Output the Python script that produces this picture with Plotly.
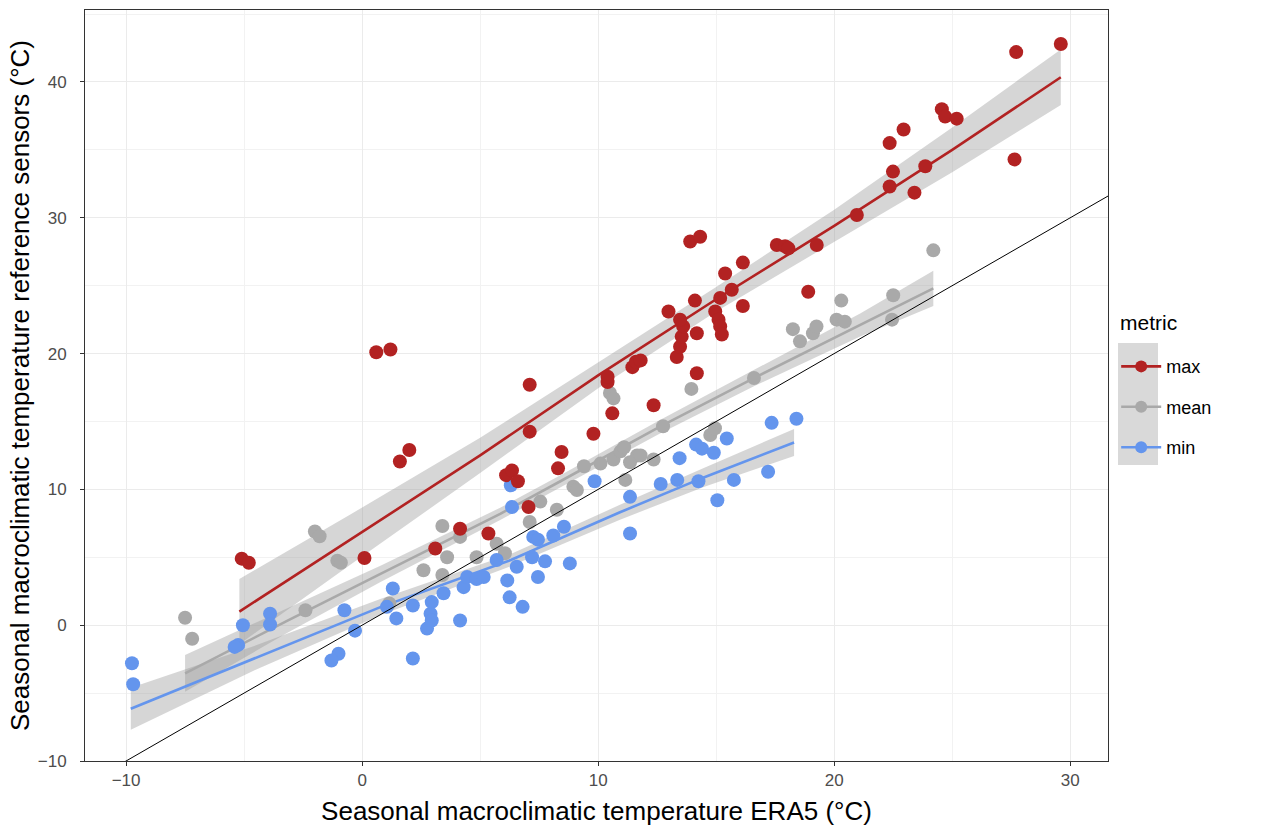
import plotly.graph_objects as go

# ---------------- data ----------------
metrics = ["max", "mean", "min"]

max_x = [-5.1, -4.8, 0.1, 0.6, 1.2, 1.6, 2.0, 3.1, 4.15, 5.35, 6.1, 6.35, 6.6, 7.05, 7.1, 7.1,
         8.3, 8.45, 9.8, 10.4, 10.4, 10.6, 11.45, 11.6, 11.8, 12.35, 12.98, 13.33, 13.47, 13.54,
         13.6, 13.47, 13.9, 14.32, 14.1, 14.18, 14.18, 14.96, 15.1, 15.17, 15.24, 15.17, 15.38,
         15.66, 16.13, 16.13, 17.57, 17.92, 18.06, 18.9, 19.26, 20.96, 22.35, 22.35, 22.49, 22.94,
         23.4, 23.86, 24.56, 24.7, 25.19, 27.64, 27.71, 29.6]
max_y = [4.9, 4.6, 4.95, 20.1, 20.3, 12.05, 12.9, 5.65, 7.1, 6.75, 11.05, 11.4, 10.6, 8.7, 14.25, 17.7,
         11.55, 12.75, 14.1, 17.9, 18.3, 15.6, 19.0, 19.4, 19.5, 16.2, 23.1, 19.75, 20.5, 21.25,
         22.0, 22.5, 28.25, 28.6, 23.9, 21.5, 18.55, 23.1, 22.5, 22.0, 21.4, 24.1, 25.9,
         24.7, 23.5, 26.7, 28.0, 27.9, 27.75, 24.55, 28.0, 30.2, 35.5, 32.3, 33.4, 36.5,
         31.85, 33.8, 38.0, 37.45, 37.3, 34.3, 42.2, 42.8]

mean_x = [-7.5, -7.2, -2.4, -2.0, -1.8, -1.05, -0.9, 1.15, 2.6, 3.4, 3.4, 3.6, 4.15, 4.85, 5.7,
          6.05, 7.1, 7.55, 8.25, 8.95, 9.1, 9.4, 10.1, 10.5, 10.65, 10.65, 10.95, 11.1, 11.15,
          11.35, 11.65, 11.8, 12.35, 12.75, 13.95, 14.75, 14.95, 16.6, 18.25, 18.55, 19.1, 19.25,
          20.1, 20.3, 20.45, 22.45, 22.5, 24.2]
mean_y = [0.55, -1.0, 1.1, 6.9, 6.55, 4.75, 4.6, 1.6, 4.05, 7.3, 3.7, 5.0, 6.5, 5.0, 6.0,
          5.3, 7.6, 9.1, 8.5, 10.2, 9.95, 11.7, 11.9, 17.1, 16.7, 12.2, 12.8, 13.1, 10.7,
          12.0, 12.5, 12.5, 12.2, 14.65, 17.4, 14.0, 14.5, 18.2, 21.8, 20.9, 21.5, 22.0,
          22.5, 23.9, 22.35, 22.5, 24.3, 27.6]

min_x = [-9.75, -9.7, -5.05, -5.25, -5.4, -3.9, -3.9, -0.75, -0.3, -1.0, -1.3, 1.3, 1.05, 1.45,
         2.15, 2.15, 2.75, 2.9, 2.95, 2.95, 3.45, 4.15, 4.3, 4.45, 4.85, 5.15, 5.7, 6.15, 6.25,
         6.3, 6.35, 6.55, 6.8, 7.2, 7.25, 7.45, 7.45, 7.75, 8.1, 8.55, 8.8, 9.85, 11.35, 11.35,
         12.65, 13.35, 13.45, 14.15, 14.25, 14.4, 14.9, 15.05, 15.45, 15.75, 17.2, 17.35, 18.4]
min_y = [-2.8, -4.35, 0.0, -1.45, -1.6, 0.85, 0.05, 1.1, -0.4, -2.1, -2.6, 2.7, 1.35, 0.5,
         1.45, -2.45, -0.25, 0.85, 1.7, 0.35, 2.35, 0.35, 2.8, 3.55, 3.4, 3.55, 4.8, 3.3, 2.05,
         10.3, 8.7, 4.3, 1.35, 5.0, 6.5, 3.55, 6.3, 4.7, 6.6, 7.25, 4.55, 10.6, 9.45, 6.75,
         10.4, 10.7, 12.3, 13.3, 10.6, 13.0, 12.7, 9.2, 13.75, 10.7, 11.3, 14.9, 15.2]

# smoothed fits (geom_smooth)
max_fit_x = [-5.2, -0.5, 5, 10, 15, 20, 25, 29.6]
max_fit_y = [1.0, 6.3, 12.5, 18.4, 24.0, 29.4, 35.0, 40.35]
max_fit_se = [2.4, 1.85, 1.3, 0.95, 0.9, 1.2, 1.65, 2.05]

mean_fit_x = [-7.5, -3.2, 0.8, 5.85, 8.4, 12.6, 16.6, 21.1, 24.2]
mean_fit_y = [-3.55, 0.3, 3.8, 8.2, 10.6, 14.6, 18.2, 22.1, 24.8]
mean_fit_se = [1.35, 0.9, 0.6, 0.45, 0.45, 0.5, 0.6, 0.85, 1.3]

min_fit_x = [-9.8, -4.6, 0.8, 6.3, 9.2, 10.9, 14.5, 18.3]
min_fit_y = [-6.15, -2.45, 1.35, 4.8, 7.0, 8.3, 10.9, 13.45]
min_fit_se = [1.55, 0.9, 0.6, 0.45, 0.5, 0.55, 0.7, 1.0]

identity_x = [-12, 32]

x_ticks = [-10, 0, 10, 20, 30]
y_ticks = [-10, 0, 10, 20, 30, 40]

# ---------------- styling ----------------
colors = {"max": "#B22222", "mean": "#A9A9A9", "min": "#6495ED"}
points = {"max": (max_x, max_y), "mean": (mean_x, mean_y), "min": (min_x, min_y)}
fits = {"max": (max_fit_x, max_fit_y, max_fit_se),
        "mean": (mean_fit_x, mean_fit_y, mean_fit_se),
        "min": (min_fit_x, min_fit_y, min_fit_se)}
point_draw_order = ["mean", "min", "max"]

fig = go.Figure()

# confidence bands
for m in metrics:
    fx, fy, se = fits[m]
    up = [y + s for y, s in zip(fy, se)]
    lo = [y - s for y, s in zip(fy, se)]
    fig.add_trace(go.Scatter(x=fx + fx[::-1], y=up + lo[::-1], fill="toself",
                             fillcolor="rgba(153,153,153,0.4)", line=dict(width=0),
                             mode="lines", hoverinfo="skip", showlegend=False))
# fit lines
for m in metrics:
    fx, fy, se = fits[m]
    fig.add_trace(go.Scatter(x=fx, y=fy, mode="lines", line=dict(color=colors[m], width=2.6),
                             showlegend=False, hoverinfo="skip"))
# points
for m in point_draw_order:
    px_, py_ = points[m]
    fig.add_trace(go.Scatter(x=px_, y=py_, mode="markers", name=m,
                             marker=dict(color=colors[m], size=14, line=dict(width=0)),
                             showlegend=False))
# identity line
fig.add_trace(go.Scatter(x=identity_x, y=identity_x, mode="lines",
                         line=dict(color="black", width=1), showlegend=False, hoverinfo="skip"))
# legend entries
for m in metrics:
    fig.add_trace(go.Scatter(x=[None], y=[None], mode="lines+markers", name=m, legendgroup=m,
                             marker=dict(color=colors[m], size=12),
                             line=dict(color=colors[m], width=2.6)))

axis_common = dict(
    ticks="outside", ticklen=4, tickcolor="#333333", tickwidth=1, automargin=False,
    tickfont=dict(family="Liberation Sans, Arial, sans-serif", size=17, color="#4d4d4d"),
    showgrid=True, gridcolor="#ebebeb", gridwidth=1.2,
    minor=dict(dtick=5, showgrid=True, gridcolor="#f2f2f2", gridwidth=0.8),
    showline=True, linecolor="#333333", linewidth=1, mirror=True, zeroline=False,
)

fig.update_layout(
    width=1268, height=832,
    margin=dict(l=85, r=160, t=10, b=71),
    plot_bgcolor="white", paper_bgcolor="white",
    font=dict(family="Liberation Sans, Arial, sans-serif", color="black"),
    xaxis=dict(range=[-11.74, 31.6], tickvals=x_ticks, **axis_common,
               title=dict(text="Seasonal macroclimatic temperature ERA5 (°C)",
                          font=dict(size=26, color="black"), standoff=12)),
    yaxis=dict(range=[-10, 45.3], tickvals=y_ticks, **axis_common,
               ticklabelstandoff=10,
               title=dict(text="Seasonal macroclimatic temperature reference sensors (°C)",
                          font=dict(size=26, color="black"), standoff=0)),
    legend=dict(x=1.008, y=0.5497, xanchor="left", yanchor="top",
                font=dict(size=18), tracegroupgap=14, itemwidth=40,
                bgcolor="rgba(0,0,0,0)"),
    annotations=[dict(text="metric", xref="paper", yref="paper",
                      x=(1118 - 85) / 1023, y=(761 - 322) / 751,
                      xanchor="left", yanchor="middle", showarrow=False,
                      font=dict(size=21, color="black"))],
    shapes=[dict(type="rect", xref="paper", yref="paper",
                 x0=(1118 - 85) / 1023, x1=(1158 - 85) / 1023,
                 y0=(761 - 465) / 751, y1=(761 - 343) / 751,
                 fillcolor="#d9d9d9", line=dict(width=0), layer="below")],
)

fig.write_html("out.html")
